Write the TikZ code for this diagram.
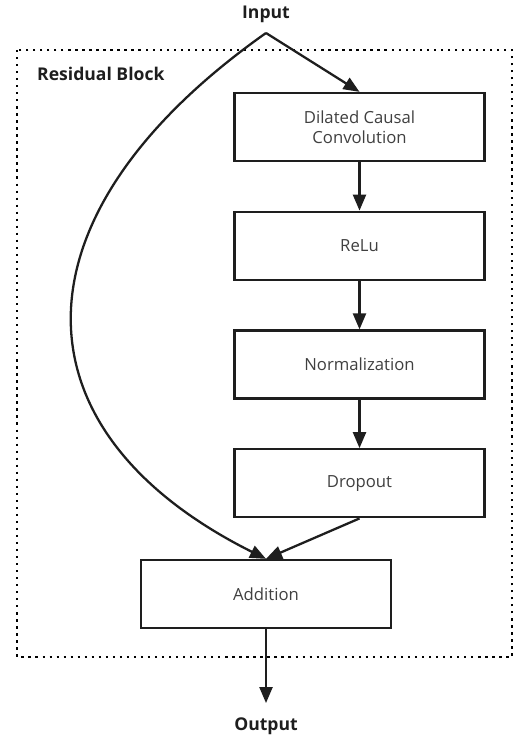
\documentclass[tikz,border=0pt]{standalone}
\usepackage{fontspec}
\setmainfont{Open Sans}
\usetikzlibrary{arrows.meta, positioning}
\definecolor{ink}{RGB}{30,30,30}
\definecolor{txt}{RGB}{64,64,64}
\tikzset{
  blk/.style   ={rectangle, draw=ink, line width=1.3pt, fill=white, align=center,
                 font=\fontsize{9.5}{11.5}\selectfont, text=txt,
                 minimum width=5cm, minimum height=1.36cm},
  lbl/.style   ={font=\fontsize{10}{12}\selectfont\bfseries, text=ink},
  ar/.style    ={-{Triangle[length=3.2mm, width=2.6mm]}, draw=ink, line width=1.3pt},
  frame/.style ={draw=black, line width=1.3pt, dash pattern=on 1.3pt off 2.7pt},
}

\begin{document}
\begin{tikzpicture}[x=0.02cm, y=-0.02cm, node distance=9.7mm]
\useasboundingbox (0,0) rectangle (517,736);
\draw[frame] (17,50) rectangle (512,657);
\node[lbl, anchor=west] (rb) at (31,74) {Residual Block};
\node[lbl] (in) at (266,14) {Input};
\coordinate (split) at (266,33);
\node[blk] (conv) at (359.5,127) {Dilated Causal\\Convolution};
\node[blk, below=of conv] (relu) {ReLu};
\node[blk, below=of relu] (norm) {Normalization};
\node[blk, below=of norm] (drop) {Dropout};
\node[blk] (add) at (266,594) {Addition};
\node[lbl, anchor=base] (out) at (266,730) {Output};
\draw[ar] (split) -- (conv.north);
\draw[ar] (conv) -- (relu); \draw[ar] (relu) -- (norm); \draw[ar] (norm) -- (drop);
\draw[ar] (drop.south) -- (add.north);
\draw[ar] (split) .. controls (8,215) and (8,430) .. (add.north);
\draw[ar, shorten >=1.6mm] (add) -- (out);
\end{tikzpicture}
\end{document}
